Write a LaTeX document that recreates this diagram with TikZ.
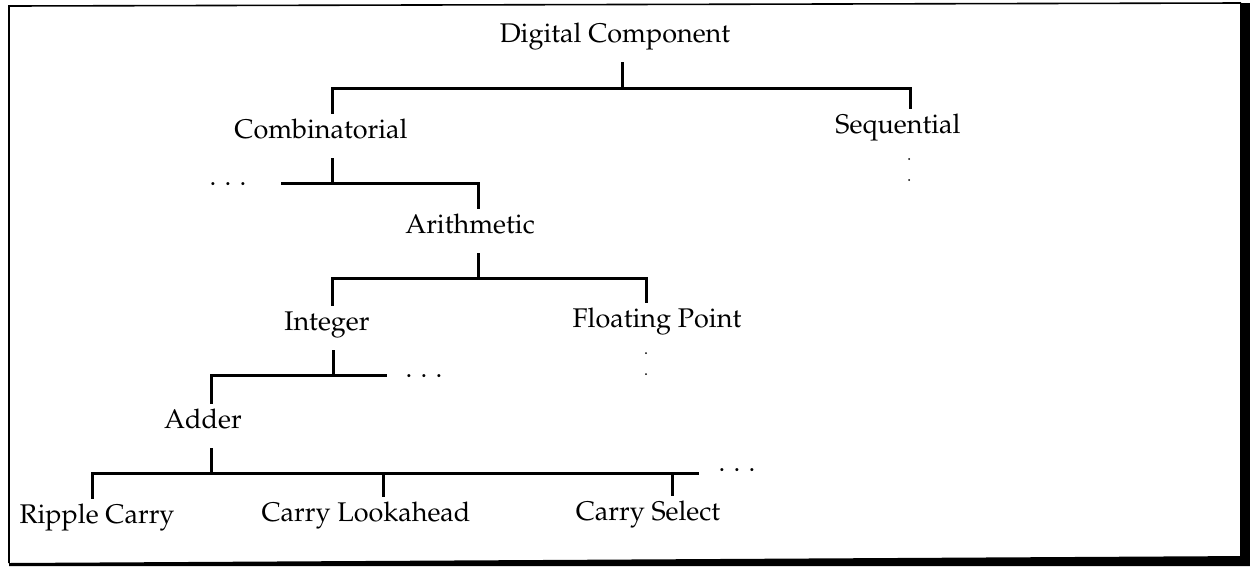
\documentclass[tikz,border=0pt]{standalone}
\usepackage[T1]{fontenc}
\begin{document}
\begin{tikzpicture}[x=1pt,y=-1pt,
  lbl/.style={anchor=base,inner xsep=0pt,inner ysep=5pt,text height=20pt,text depth=16pt,
    font=\fontencoding{T1}\fontfamily{ppl}\fontsize{27}{32}\selectfont},
  ell/.style={anchor=base,inner sep=0pt,font=\fontencoding{T1}\fontfamily{ppl}\fontsize{27}{32}\selectfont},
  conn/.style={line width=3pt,line cap=rect},
  vdot/.style={fill=black,circle,inner sep=0pt,minimum size=2pt},
  frame/.style={line width=1.6pt}]
\useasboundingbox (0,0) rectangle (1250,566);
% frame with shadow
\draw[frame] (9,563) -- (9,6) -- (1241,3);
\fill (1240,3) -- (1250,3) -- (1250,566) -- (1240,566) -- cycle;
\fill (9,563) -- (1250,556) -- (1250,566) -- (9,566) -- cycle;

% nodes
\node[lbl] (dc)    at (615,42)  {Digital Component};
\node[lbl] (comb)  at (321,138) {Combinatorial};
\node[lbl] (seq)   at (898,133) {Sequential};
\node[lbl] (arith) at (470,233) {Arithmetic};
\node[lbl] (int)   at (327,330) {Integer};
\node[lbl] (fp)    at (657,327) {Floating Point};
\node[lbl] (add)   at (203,428) {Adder};
\node[lbl] (rc)    at (97,523)  {Ripple Carry};
\node[lbl] (cl)    at (366,521) {Carry Lookahead};
\node[lbl] (cs)    at (648,520) {Carry Select};

% ellipses
\node[ell] (e1) at (228,185.5) {.\kern8.25pt.\kern8.25pt.};
\node[ell] (e2) at (424,377.5) {.\kern8.25pt.\kern8.25pt.};
\node[ell] (e3) at (737,471.5) {.\kern8.25pt.\kern8.25pt.};

% bus coordinates
\coordinate (b0) at (622,88);
\coordinate (b0L) at (332,88);
\coordinate (b0R) at (910,88);
\coordinate (b1) at (332,183);
\coordinate (b1L) at (282,183);
\coordinate (b1R) at (478,183);
\coordinate (b2) at (478,278);
\coordinate (b2L) at (332,278);
\coordinate (b2R) at (646,278);
\coordinate (b3) at (333,375);
\coordinate (b3L) at (211,375);
\coordinate (b3R) at (385,375);
\coordinate (b4) at (211,473);
\coordinate (b4L) at (92,473);
\coordinate (b4M) at (383,473);
\coordinate (b4C) at (672,473);
\coordinate (b4R) at (697,473);

% connectors
\draw[conn] (dc.south -| b0) -- (b0);
\draw[conn] (comb.north -| b0L) -- (b0L) -- (b0R) -- (seq.north -| b0R);

\draw[conn] (comb.south -| b1) -- (b1);
\draw[conn] (b1L) -- (b1R) -- (arith.north -| b1R);

\draw[conn] (arith.south -| b2) -- (b2);
\draw[conn] (int.north -| b2L) -- (b2L) -- (b2R) -- (fp.north -| b2R);

\draw[conn] (int.south -| b3) -- (b3);
\draw[conn] (add.north -| b3L) -- (b3L) -- (b3R);

\draw[conn] (add.south -| b4) -- (b4);
\draw[conn] (rc.north -| b4L) -- (b4L) -- (b4R);
\draw[conn] (b4M) -- (cl.north -| b4M);
\draw[conn] (b4C) -- (cs.north -| b4C);

% vertical continuation dots
\node[vdot] (sd1) at (909,159) {};
\node[vdot] (sd2) at (909,180) {};
\node[vdot] (fd1) at (646,353) {};
\node[vdot] (fd2) at (646,374) {};
\end{tikzpicture}
\end{document}
